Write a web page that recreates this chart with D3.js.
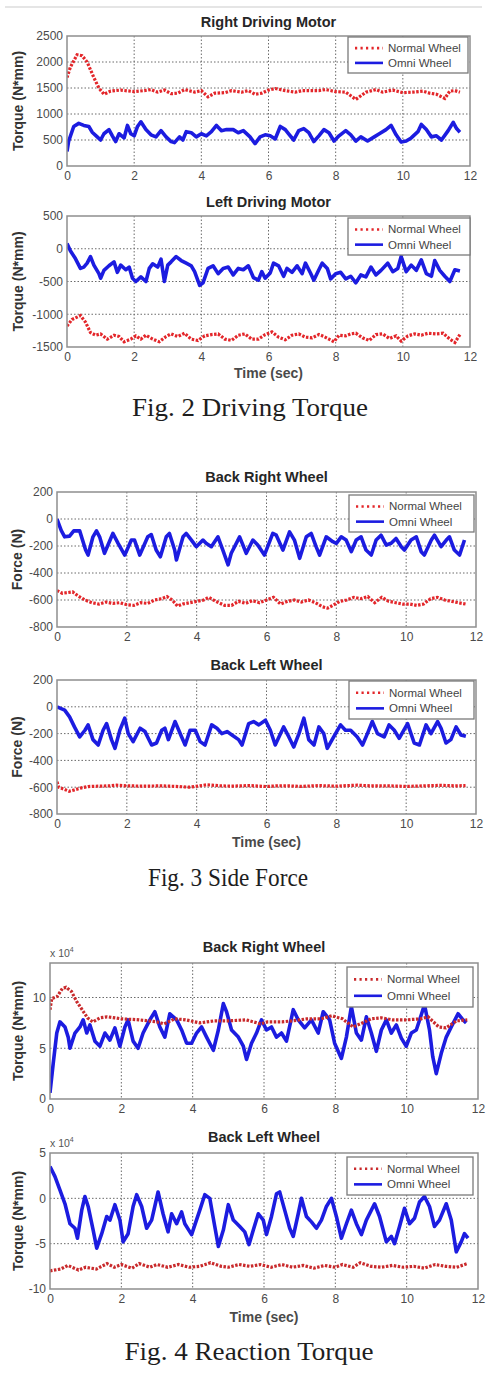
<!DOCTYPE html>
<html><head><meta charset="utf-8">
<script src="https://cdn.jsdelivr.net/npm/d3@7/dist/d3.min.js"></script>
<style>body{margin:0;background:#fff}svg{display:block}</style>
</head><body>
<svg id="c" width="487" height="1393"></svg>
<script>
// ---------- shared ticks ----------
const xTicks = [0,2,4,6,8,10,12];
const ticksTorqueR = [0,500,1000,1500,2000,2500];
const ticksTorqueL = [-1500,-1000,-500,0,500];
const ticksForce = [-800,-600,-400,-200,0,200];
const ticksReactR = [0,5,10];
const ticksReactL = [-10,-5,0,5];
const seriesNames = ["Normal Wheel","Omni Wheel"];

// ---------- Fig.2 Right Driving Motor ----------
const rdmNormalT = [0,0.1,0.3,0.45,0.6,0.8,0.95,1.1,1.3,1.6,2.0,2.3,2.5,2.7,2.9,3.1,3.3,3.5,3.8,4.0,4.2,4.4,4.7,4.9,5.2,5.4,5.6,5.8,6.0,6.2,6.5,6.8,7.0,7.5,7.7,8.0,8.3,8.6,8.9,9.2,9.4,9.7,10.0,10.3,10.6,10.8,11.0,11.25,11.4,11.55,11.7];
const rdmNormalV = [1700,1900,2140,2120,2000,1700,1500,1380,1440,1460,1430,1450,1470,1420,1460,1390,1400,1470,1420,1450,1330,1400,1410,1450,1420,1450,1380,1400,1460,1490,1450,1420,1450,1450,1470,1430,1420,1280,1420,1470,1420,1460,1410,1420,1440,1400,1380,1300,1440,1450,1420];
const rdmOmniT = [0,0.05,0.2,0.35,0.5,0.65,0.75,0.9,1.0,1.1,1.25,1.35,1.45,1.55,1.7,1.8,1.9,2.0,2.1,2.2,2.35,2.5,2.65,2.8,2.95,3.1,3.2,3.35,3.45,3.55,3.7,3.85,4.0,4.15,4.3,4.45,4.6,4.75,4.95,5.1,5.25,5.45,5.6,5.75,5.9,6.05,6.2,6.35,6.5,6.6,6.75,6.9,7.05,7.2,7.35,7.5,7.65,7.8,7.95,8.1,8.3,8.45,8.6,8.75,8.95,9.15,9.3,9.5,9.65,9.8,9.95,10.1,10.25,10.45,10.55,10.7,10.85,11.0,11.15,11.35,11.5,11.6,11.7];
const rdmOmniV = [280,480,760,820,780,760,650,560,500,620,700,580,470,620,540,780,620,580,760,850,700,600,560,680,560,470,450,560,500,660,640,560,620,580,660,780,680,700,700,640,680,560,430,560,600,580,520,760,700,620,500,680,720,640,470,580,700,640,480,580,680,600,480,560,480,560,620,700,780,600,460,480,540,660,800,700,560,580,500,680,840,720,650];

// ---------- Fig.2 Left Driving Motor ----------
const ldmNormalT = [0,0.15,0.4,0.55,0.7,0.85,1.0,1.2,1.4,1.55,1.7,1.9,2.05,2.2,2.35,2.55,2.75,2.95,3.1,3.3,3.5,3.7,3.9,4.1,4.3,4.5,4.7,4.9,5.1,5.3,5.5,5.7,5.9,6.1,6.3,6.5,6.7,6.9,7.1,7.3,7.5,7.65,7.8,7.95,8.1,8.3,8.45,8.6,8.8,9.0,9.2,9.4,9.6,9.8,9.95,10.15,10.35,10.55,10.75,11.0,11.2,11.4,11.55,11.7];
const ldmNormalV = [-1180,-1080,-1020,-1120,-1280,-1320,-1300,-1380,-1320,-1340,-1420,-1380,-1330,-1380,-1320,-1380,-1420,-1340,-1300,-1340,-1290,-1380,-1400,-1330,-1310,-1300,-1380,-1400,-1320,-1300,-1380,-1380,-1310,-1270,-1350,-1390,-1320,-1300,-1350,-1360,-1310,-1340,-1380,-1420,-1320,-1330,-1300,-1290,-1360,-1400,-1310,-1300,-1370,-1330,-1410,-1330,-1300,-1320,-1290,-1300,-1290,-1380,-1430,-1310];
const ldmOmniT = [0,0.1,0.25,0.4,0.5,0.6,0.7,0.8,0.95,1.0,1.1,1.25,1.4,1.5,1.6,1.75,1.85,1.95,2.05,2.2,2.35,2.45,2.55,2.7,2.8,2.9,3.0,3.1,3.25,3.4,3.55,3.7,3.8,3.95,4.05,4.2,4.35,4.5,4.65,4.8,4.95,5.1,5.25,5.4,5.55,5.7,5.8,5.9,6.05,6.15,6.3,6.45,6.55,6.7,6.85,7.0,7.1,7.25,7.35,7.5,7.6,7.75,7.85,8.0,8.15,8.3,8.45,8.6,8.75,8.9,9.05,9.2,9.35,9.55,9.7,9.85,9.95,10.1,10.25,10.4,10.55,10.7,10.85,10.95,11.1,11.25,11.4,11.55,11.7];
const ldmOmniV = [80,-30,-150,-300,-280,-220,-120,-250,-380,-450,-330,-260,-200,-360,-250,-320,-280,-450,-500,-430,-500,-300,-230,-280,-160,-500,-250,-200,-120,-180,-220,-260,-350,-560,-520,-300,-260,-380,-300,-280,-400,-300,-320,-260,-440,-480,-350,-450,-370,-220,-260,-420,-300,-360,-260,-380,-220,-370,-480,-320,-220,-300,-460,-380,-360,-460,-420,-520,-400,-430,-280,-400,-330,-220,-350,-300,-120,-350,-250,-330,-170,-380,-420,-180,-330,-420,-500,-320,-340];

// ---------- Fig.3 Back Right Wheel (side force) ----------
const sbrNormalT = [0,0.15,0.3,0.45,0.6,0.8,1.0,1.2,1.4,1.6,1.8,2.0,2.2,2.4,2.6,2.8,3.0,3.15,3.3,3.45,3.6,3.8,4.0,4.2,4.35,4.55,4.8,5.0,5.2,5.4,5.6,5.8,6.0,6.2,6.4,6.6,6.8,7.0,7.2,7.4,7.6,7.75,7.9,8.1,8.3,8.5,8.7,8.9,9.1,9.3,9.5,9.7,9.9,10.1,10.3,10.5,10.7,10.9,11.1,11.3,11.5,11.7];
const sbrNormalV = [-530,-550,-545,-540,-570,-600,-620,-630,-615,-625,-620,-635,-640,-620,-625,-600,-590,-575,-600,-645,-630,-620,-610,-600,-580,-610,-640,-640,-610,-625,-605,-620,-600,-580,-630,-610,-600,-615,-600,-620,-650,-660,-640,-610,-600,-580,-590,-575,-620,-580,-610,-620,-630,-630,-640,-630,-590,-580,-600,-610,-620,-630];
const sbrOmniT = [0,0.12,0.22,0.36,0.48,0.65,0.82,0.89,1.03,1.13,1.22,1.36,1.6,1.75,1.94,2.13,2.22,2.37,2.6,2.7,2.84,2.96,3.13,3.22,3.37,3.42,3.61,3.7,3.85,3.99,4.18,4.27,4.42,4.61,4.75,4.9,4.99,5.23,5.42,5.61,5.75,5.94,6.18,6.28,6.47,6.66,6.8,6.95,7.14,7.28,7.42,7.52,7.71,7.9,8.0,8.14,8.28,8.43,8.57,8.71,8.85,9.0,9.14,9.28,9.43,9.57,9.71,9.86,9.95,10.14,10.29,10.43,10.52,10.72,10.81,11.0,11.15,11.24,11.38,11.53,11.67];
const sbrOmniV = [0,-84,-132,-127,-88,-88,-230,-267,-132,-88,-132,-254,-107,-180,-267,-156,-156,-267,-132,-115,-230,-280,-132,-107,-230,-304,-132,-107,-156,-205,-156,-180,-205,-132,-230,-340,-254,-132,-254,-156,-193,-267,-107,-120,-230,-95,-156,-291,-132,-107,-205,-267,-132,-168,-180,-132,-156,-242,-156,-132,-230,-267,-156,-120,-193,-180,-144,-205,-230,-156,-132,-242,-267,-156,-120,-205,-156,-132,-230,-267,-156];

// ---------- Fig.3 Back Left Wheel (side force) ----------
const sblNormalT = [0,0.05,0.2,0.35,0.5,0.7,0.9,1.2,1.5,1.7,2.0,2.5,3.0,3.4,3.8,4.3,4.7,5.0,5.5,6.0,6.3,6.6,7.0,7.5,8.0,8.6,9.0,9.5,10.0,10.5,11.0,11.4,11.7];
const sblNormalV = [-560,-600,-615,-630,-620,-605,-595,-592,-590,-585,-590,-592,-590,-594,-600,-582,-590,-592,-588,-595,-590,-590,-594,-588,-592,-585,-590,-590,-594,-590,-586,-590,-588];
const sblOmniT = [0,0.22,0.36,0.5,0.65,0.8,0.89,1.03,1.18,1.32,1.42,1.56,1.66,1.8,1.94,2.04,2.18,2.38,2.52,2.71,2.85,3.0,3.09,3.19,3.38,3.57,3.67,3.81,3.96,4.1,4.24,4.43,4.58,4.72,4.87,5.01,5.2,5.3,5.49,5.63,5.78,5.97,6.11,6.25,6.49,6.64,6.78,6.93,7.07,7.21,7.36,7.5,7.64,7.74,7.88,8.12,8.26,8.41,8.6,8.75,8.89,9.03,9.18,9.37,9.51,9.66,9.8,10.04,10.23,10.38,10.57,10.71,10.9,11.0,11.14,11.28,11.43,11.57,11.71];
const sblOmniV = [0,-25,-75,-150,-225,-175,-135,-245,-285,-175,-125,-245,-310,-175,-85,-200,-260,-160,-185,-285,-270,-175,-160,-245,-110,-225,-285,-175,-175,-260,-285,-135,-160,-200,-185,-210,-245,-285,-125,-110,-135,-100,-175,-285,-150,-225,-300,-200,-85,-245,-285,-150,-200,-310,-245,-135,-175,-175,-225,-285,-200,-110,-200,-225,-135,-175,-235,-125,-270,-285,-135,-200,-110,-160,-270,-245,-150,-210,-220];

// ---------- Fig.4 Back Right Wheel (reaction torque, x10^4) ----------
const rbrNormalT = [0,0.05,0.2,0.35,0.45,0.6,0.75,0.9,1.05,1.2,1.4,1.6,2.0,2.5,3.0,3.2,3.5,3.8,4.2,4.6,5.0,5.5,5.9,6.1,6.5,6.8,7.2,7.6,7.9,8.2,8.5,8.7,9.0,9.3,9.6,10.0,10.4,10.6,10.9,11.1,11.4,11.7];
const rbrNormalV = [8.8,9.9,10.1,10.9,11.0,10.6,9.6,8.8,8.0,7.6,8.0,8.1,7.9,7.8,7.6,7.4,7.9,7.8,7.5,7.7,7.7,7.8,7.4,7.6,7.6,7.7,7.9,7.9,8.2,7.9,7.1,7.4,7.9,8.0,7.8,7.8,7.9,8.1,7.1,7.0,7.7,7.8];
const rbrOmniT = [0,0.09,0.19,0.28,0.42,0.51,0.56,0.7,0.84,0.93,1.03,1.12,1.26,1.4,1.54,1.68,1.82,1.96,2.1,2.19,2.33,2.47,2.61,2.8,2.94,3.08,3.22,3.36,3.55,3.69,3.83,3.97,4.11,4.25,4.39,4.58,4.72,4.86,4.95,5.09,5.28,5.42,5.51,5.65,5.79,5.93,6.07,6.21,6.35,6.49,6.63,6.82,6.96,7.14,7.33,7.52,7.66,7.84,7.98,8.17,8.31,8.45,8.59,8.73,8.87,9.01,9.15,9.29,9.43,9.57,9.71,9.85,9.99,10.13,10.27,10.41,10.5,10.64,10.73,10.83,10.97,11.11,11.25,11.44,11.58,11.67];
const rbrOmniV = [0.6,3.5,6.5,7.6,7.1,6.1,5.0,6.5,7.1,7.8,6.5,7.3,5.7,5.2,6.5,5.8,7.0,5.2,7.1,7.8,5.7,5.0,6.5,7.8,8.6,7.1,6.1,8.4,7.8,6.8,5.5,5.5,6.5,7.1,6.1,4.8,6.8,9.4,8.6,6.8,6.1,5.2,3.9,5.5,6.5,7.8,6.8,7.1,6.1,6.5,5.7,8.8,7.8,7.0,7.8,6.5,8.6,7.8,5.5,4.0,6.1,9.1,6.5,5.8,8.1,6.5,4.7,6.8,7.8,6.5,7.3,6.0,5.2,6.5,6.8,8.3,9.3,6.8,4.2,2.5,4.5,6.1,7.1,8.4,7.8,7.5];

// ---------- Fig.4 Back Left Wheel (reaction torque, x10^4) ----------
const rblNormalT = [0,0.3,0.5,0.8,1.0,1.3,1.6,1.8,2.0,2.3,2.5,2.8,3.0,3.3,3.6,3.9,4.2,4.5,4.8,5.0,5.3,5.6,5.9,6.2,6.5,6.8,7.1,7.4,7.7,8.0,8.2,8.5,8.7,9.0,9.3,9.6,9.9,10.2,10.5,10.8,11.1,11.4,11.7];
const rblNormalV = [-8.0,-7.8,-7.4,-7.9,-7.6,-7.8,-7.2,-7.6,-7.3,-7.7,-7.2,-7.6,-7.3,-7.6,-7.3,-7.6,-7.5,-7.1,-7.5,-7.6,-7.3,-7.5,-7.3,-7.6,-7.3,-7.6,-7.4,-7.7,-7.4,-7.6,-7.3,-7.6,-7.1,-7.5,-7.6,-7.4,-7.6,-7.5,-7.7,-7.3,-7.5,-7.6,-7.2];
const rblOmniT = [0,0.14,0.28,0.42,0.56,0.7,0.77,0.89,0.98,1.07,1.21,1.31,1.45,1.59,1.68,1.82,1.96,2.05,2.19,2.33,2.43,2.57,2.71,2.85,3.03,3.17,3.31,3.41,3.55,3.69,3.78,3.97,4.2,4.34,4.48,4.62,4.72,4.86,5.0,5.14,5.32,5.46,5.58,5.7,5.84,5.98,6.07,6.21,6.35,6.44,6.58,6.72,6.82,6.96,7.05,7.19,7.33,7.47,7.61,7.75,7.89,8.03,8.17,8.31,8.45,8.59,8.73,8.87,9.1,9.24,9.43,9.57,9.66,9.8,9.94,10.08,10.22,10.36,10.5,10.64,10.78,10.92,11.11,11.25,11.39,11.53,11.62,11.72];
const rblOmniV = [3.5,2.4,0.9,-0.6,-2.8,-3.3,-4.4,-1.3,0.2,-0.9,-3.5,-5.5,-3.9,-2.0,-2.4,-0.7,-2.4,-4.8,-3.9,-0.9,0.4,-0.9,-3.3,-2.4,0.7,-1.7,-3.7,-1.7,-2.8,-1.5,-2.8,-4.0,-1.3,0.4,0.0,-3.1,-5.3,-3.5,-0.7,-2.4,-3.1,-3.7,-5.1,-3.5,-1.7,-2.4,-4.0,-2.0,0.5,0.7,-1.3,-3.3,-4.2,-1.7,0.0,-2.0,-2.6,-3.3,-2.4,-0.9,0.0,-2.0,-4.4,-2.8,-1.3,-2.8,-4.0,-2.4,-0.6,-2.0,-4.8,-4.2,-5.0,-3.1,-1.1,-2.8,-2.2,-0.4,0.2,-0.9,-3.1,-2.4,-0.6,-2.4,-5.9,-4.8,-3.9,-4.4];

// ---------- layout ----------
const RED = "#e3262a", RED2 = "#c92a2c", BLUE = "#1c1ce0";
const panels = [
  {title:"Right Driving Motor", ylabel:"Torque (N*mm)", yDomain:[0,2500], yTicks:ticksTorqueR,
   box:[67,36,470,166], titleY:22, ylabX:18, normal:[rdmNormalT,rdmNormalV], omni:[rdmOmniT,rdmOmniV],
   legend:[348,37,120,36], red:RED},
  {title:"Left Driving Motor", ylabel:"Torque (N*mm)", yDomain:[-1500,500], yTicks:ticksTorqueL,
   box:[67,216,470,347], titleY:202, ylabX:18, normal:[ldmNormalT,ldmNormalV], omni:[ldmOmniT,ldmOmniV],
   legend:[348,218,122,37], red:RED, xlabelY:373},
  {title:"Back Right Wheel", ylabel:"Force (N)", yDomain:[-800,200], yTicks:ticksForce,
   box:[57,492,476,627], titleY:477, ylabX:17, normal:[sbrNormalT,sbrNormalV], omni:[sbrOmniT,sbrOmniV],
   legend:[349,495,125,37], red:RED},
  {title:"Back Left Wheel", ylabel:"Force (N)", yDomain:[-800,200], yTicks:ticksForce,
   box:[57,680,476,814], titleY:665, ylabX:17, normal:[sblNormalT,sblNormalV], omni:[sblOmniT,sblOmniV],
   legend:[349,681,125,38], red:RED, xlabelY:842},
  {title:"Back Right Wheel", ylabel:"Torque (N*mm)", yDomain:[0,13.4], yTicks:ticksReactR,
   box:[50,963,478,1099], titleY:947, ylabX:18, normal:[rbrNormalT,rbrNormalV], omni:[rbrOmniT,rbrOmniV],
   legend:[347,967,126,40], red:RED2, exp:true},
  {title:"Back Left Wheel", ylabel:"Torque (N*mm)", yDomain:[-10,5], yTicks:ticksReactL,
   box:[50,1153,478,1289], titleY:1137, ylabX:18, normal:[rblNormalT,rblNormalV], omni:[rblOmniT,rblOmniV],
   legend:[347,1157,126,38], red:RED2, exp:true, xlabelY:1317}
];
const captions = [
  {text:"Fig. 2 Driving Torque", x:250, y:416, w:236},
  {text:"Fig. 3 Side Force", x:228, y:886, w:160},
  {text:"Fig. 4 Reaction Torque", x:249, y:1360, w:249}
];

const svg = d3.select("#c");
svg.append("line").attr("x1",5).attr("x2",482).attr("y1",7).attr("y2",7)
  .attr("stroke","#dcdcdc").attr("stroke-width",1.5);

const SANS = "'Liberation Sans', Arial, sans-serif";
const tickColor = "#4a4a4a";
const fmt = d => String(d);

panels.forEach((p,pi) => {
  const [l,t,r,b] = p.box;
  const x = d3.scaleLinear().domain([0,12]).range([l,r]);
  const y = d3.scaleLinear().domain(p.yDomain).range([b,t]);
  const g = svg.append("g");
  g.append("rect").attr("x",l).attr("y",t).attr("width",r-l).attr("height",b-t).attr("fill","#fff");
  // grid
  g.selectAll(".gx").data(xTicks.slice(1,-1)).join("line")
    .attr("x1",d=>x(d)).attr("x2",d=>x(d)).attr("y1",t).attr("y2",b)
    .attr("stroke","#6a6a6a").attr("stroke-width",1).attr("stroke-dasharray","1.5,2");
  g.selectAll(".gy").data(p.yTicks.filter(v=>v>p.yDomain[0] && v<p.yDomain[1])).join("line")
    .attr("x1",l).attr("x2",r).attr("y1",d=>y(d)).attr("y2",d=>y(d))
    .attr("stroke","#6a6a6a").attr("stroke-width",1).attr("stroke-dasharray","1.5,2");
  // axes labels via d3 axes
  const xa = g.append("g").attr("transform",`translate(0,${b})`)
    .call(d3.axisBottom(x).tickValues(xTicks).tickSize(0).tickPadding(5).tickFormat(fmt));
  xa.select(".domain").remove();
  xa.selectAll("text").attr("font-family",SANS).attr("font-size",12).attr("fill",tickColor);
  const ya = g.append("g").attr("transform",`translate(${l},0)`)
    .call(d3.axisLeft(y).tickValues(p.yTicks).tickSize(0).tickPadding(4).tickFormat(fmt));
  ya.select(".domain").remove();
  ya.selectAll("text").attr("font-family",SANS).attr("font-size",12).attr("fill",tickColor);

  const line = d3.line().x(d=>x(d[0])).y(d=>y(d[1]));
  const pts = (arr) => arr[0].map((tt,i)=>[tt, arr[1][i]]).filter(d=>d[1]!==undefined);
  const clipId = "clip"+pi;
  g.append("clipPath").attr("id",clipId).append("rect").attr("x",l).attr("y",t).attr("width",r-l).attr("height",b-t);
  const lg = g.append("g").attr("clip-path",`url(#${clipId})`);
  lg.append("path").datum(pts(p.omni)).attr("d",line).attr("fill","none")
    .attr("stroke",BLUE).attr("stroke-width",3.6).attr("stroke-linejoin","round");
  lg.append("path").datum(pts(p.normal)).attr("d",line).attr("fill","none")
    .attr("stroke",p.red).attr("stroke-width",3.2).attr("stroke-dasharray","2.5,1.5");
  // box
  g.append("rect").attr("x",l).attr("y",t).attr("width",r-l).attr("height",b-t)
    .attr("fill","none").attr("stroke","#8e8e8e").attr("stroke-width",1.5);
  // title
  g.append("text").attr("x",(l+r)/2).attr("y",p.titleY).attr("dy","0.35em").attr("text-anchor","middle")
    .attr("font-family",SANS).attr("font-weight","bold").attr("font-size",14.5).attr("fill","#262626").text(p.title);
  // y label
  g.append("text").attr("transform",`translate(${p.ylabX},${(t+b)/2}) rotate(-90)`).attr("dy","0.35em")
    .attr("text-anchor","middle").attr("font-family",SANS).attr("font-weight","bold").attr("font-size",14)
    .attr("fill","#333").text(p.ylabel);
  if (p.xlabelY) {
    g.append("text").attr("x",(l+r)/2).attr("y",p.xlabelY).attr("dy","0.35em").attr("text-anchor","middle")
      .attr("font-family",SANS).attr("font-weight","bold").attr("font-size",14).attr("fill","#4a4a4a").text("Time (sec)");
  }
  if (p.exp) {
    const et = g.append("text").attr("x",l).attr("y",t-6).attr("font-family",SANS).attr("font-size",10.5).attr("fill","#555");
    et.append("tspan").text("x 10");
    et.append("tspan").attr("dy",-5).attr("font-size",7).text("4");
  }
  // legend
  const [lx,ly,lw,lh] = p.legend;
  g.append("rect").attr("x",lx).attr("y",ly).attr("width",lw).attr("height",lh)
    .attr("fill","#fff").attr("stroke","#7a7a7a").attr("stroke-width",1.3);
  const rows = [ly+lh*0.31, ly+lh*0.72];
  g.append("line").attr("x1",lx+7).attr("x2",lx+35).attr("y1",rows[0]).attr("y2",rows[0])
    .attr("stroke",p.red).attr("stroke-width",2.6).attr("stroke-dasharray","2.2,3.3");
  g.append("line").attr("x1",lx+7).attr("x2",lx+35).attr("y1",rows[1]).attr("y2",rows[1])
    .attr("stroke",BLUE).attr("stroke-width",2.6);
  seriesNames.forEach((s,i)=>{
    g.append("text").attr("x",lx+40).attr("y",rows[i]).attr("dy","0.35em")
      .attr("font-family",SANS).attr("font-size",11.5).attr("fill","#444").text(s);
  });
});

captions.forEach(c=>{
  svg.append("text").attr("x",c.x).attr("y",c.y).attr("text-anchor","middle")
    .attr("font-family","'Liberation Serif', 'Times New Roman', serif").attr("font-size",25)
    .attr("fill","#1e1e1e").attr("textLength",c.w).attr("lengthAdjust","spacingAndGlyphs").text(c.text);
});
</script>
</body></html>
